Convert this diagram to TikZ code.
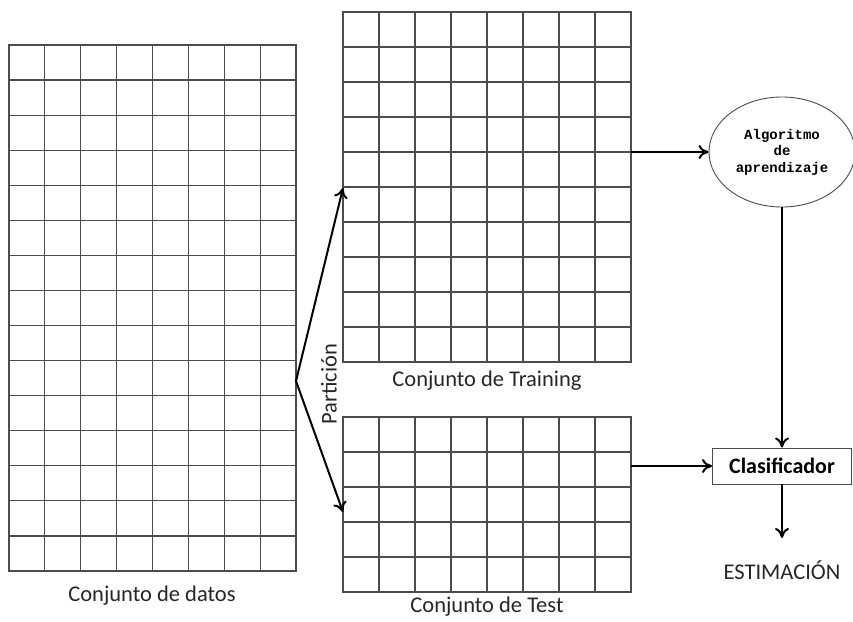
\documentclass[tikz,border=0pt]{standalone}
\usepackage{fontspec}
\setmainfont{Carlito}
\newfontfamily\monob{Liberation Mono}
\usetikzlibrary{shapes.geometric,arrows.meta}

\begin{document}
\begin{tikzpicture}[x=1pt,y=-1pt,
  celda/.style={draw=black!70,line width=1.2pt},
  flecha/.style={line width=2pt,-{To[length=10pt,width=14pt]}},
  etiq/.style={font=\fontsize{22.5}{26}\selectfont,text=black!85}]
  \useasboundingbox (0,0) rectangle (853,621);
  \node[celda,minimum width=287pt,minimum height=526pt,inner sep=0pt] (datos) at (152.5,308) {};
  \foreach \i in {1,...,7} \draw[celda] (9+\i*35.875,45) -- (9+\i*35.875,571);
  \foreach \j in {1,...,14} \draw[celda] (9,45+\j*35.067) -- (296,45+\j*35.067);
  \node[celda,minimum width=288pt,minimum height=350pt,inner sep=0pt] (train) at (487,187) {};
  \foreach \i in {1,...,7} \draw[celda] (343+\i*36,12) -- (343+\i*36,362);
  \foreach \j in {1,...,9} \draw[celda] (343,12+\j*35) -- (631,12+\j*35);
  \node[celda,minimum width=288pt,minimum height=175pt,inner sep=0pt] (test) at (487,504.5) {};
  \foreach \i in {1,...,7} \draw[celda] (343+\i*36,417) -- (343+\i*36,592);
  \foreach \j in {1,...,4} \draw[celda] (343,417+\j*35) -- (631,417+\j*35);
  \node[etiq] (tdatos) at (152,596) {Conjunto de datos};
  \node[etiq] (ttrain) at (487,381) {Conjunto de Training};
  \node[etiq] (ttest) at (487,607) {Conjunto de Test};
  \node[etiq,rotate=90] (tpart) at (329,384) {Partición};
  \node[draw=black!70,line width=0.9pt,ellipse,minimum width=146pt,minimum height=110pt,inner sep=0pt,
    font=\monob\bfseries\fontsize{14}{16.5}\selectfont,align=center] (alg) at (782,152) {Algoritmo\\de\\aprendizaje};
  \node[draw=black!70,line width=0.9pt,minimum width=139pt,minimum height=36pt,inner sep=0pt,
    font=\bfseries\fontsize{22}{25}\selectfont] (clas) at (782,466) {Clasificador};
  \node[etiq] (est) at (782,570) {ESTIMACIÓN};
  \coordinate (part) at (296,381);
  \coordinate (atrain) at (343,188);
  \coordinate (atest) at (343,512);
  \coordinate (otrain) at (631,152);
  \coordinate (otest) at (631,466);
  \coordinate (eflecha) at (782,538);
  \draw[flecha] (part) -- (atrain);
  \draw[flecha] (part) -- (atest);
  \draw[flecha] (otrain) -- (alg.west);
  \draw[flecha] (alg.south) -- (clas.north);
  \draw[flecha] (otest) -- (clas.west);
  \draw[flecha] (clas.south) -- (eflecha);
\end{tikzpicture}
\end{document}
